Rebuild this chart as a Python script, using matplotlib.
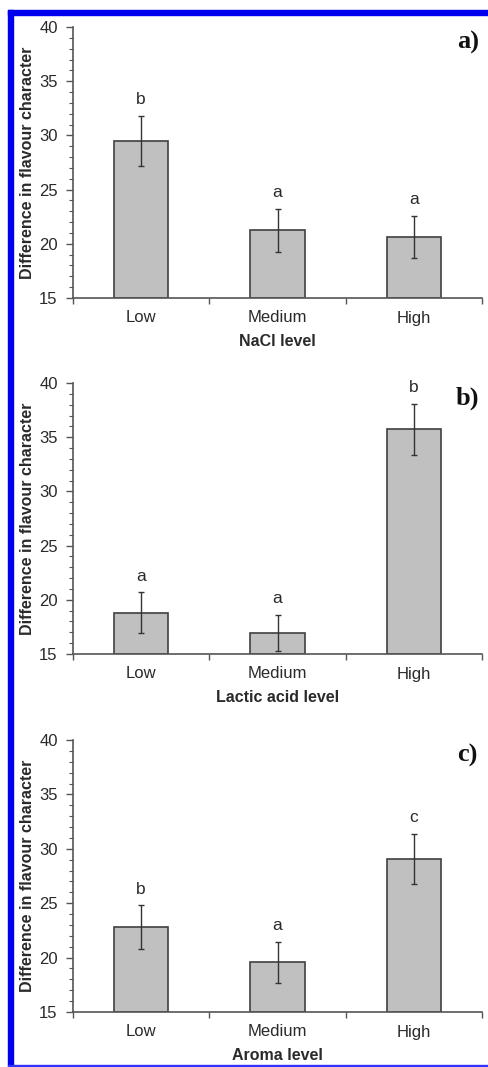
import numpy as np
import matplotlib.pyplot as plt
from matplotlib.patches import Rectangle
from matplotlib.ticker import MultipleLocator

plt.rcParams['font.family'] = ['Liberation Sans', 'DejaVu Sans']

categories = ['Low', 'Medium', 'High']

# panel a) NaCl level
nacl_mean = [29.5, 21.25, 20.65]
nacl_err = [2.3, 2.0, 1.95]
nacl_letters = ['b', 'a', 'a']

# panel b) lactic acid level
lactic_mean = [18.8, 16.95, 35.75]
lactic_err = [1.9, 1.65, 2.35]
lactic_letters = ['a', 'a', 'b']

# panel c) aroma level
aroma_mean = [22.8, 19.55, 29.1]
aroma_err = [2.0, 1.9, 2.3]
aroma_letters = ['b', 'a', 'c']

panels = [
    (nacl_mean, nacl_err, nacl_letters, 'NaCl level', 'a)'),
    (lactic_mean, lactic_err, lactic_letters, 'Lactic acid level', 'b)'),
    (aroma_mean, aroma_err, aroma_letters, 'Aroma level', 'c)'),
]

W, H = 488, 1067
fig = plt.figure(figsize=(W / 100, H / 100), dpi=100)

# axes boxes in pixels: (top, bottom)
boxes = [(27, 298), (383, 654), (740, 1012)]
left, right = 73, 482

txt = '#2a2a2a'
axc = '#555555'

for (mean, err, letters, xlab, tag), (top, bot) in zip(panels, boxes):
    ax = fig.add_axes([left / W, 1 - bot / H, (right - left) / W, (bot - top) / H])
    x = np.arange(len(categories))
    ax.bar(x, np.array(mean) - 15, bottom=15, width=0.4, color='#c0c0c0',
           edgecolor='#404040', linewidth=1.2, zorder=2)
    ax.errorbar(x, mean, yerr=err, fmt='none', ecolor='#333333',
                elinewidth=1.0, capsize=2.5, capthick=1.0, zorder=3)
    for xi, m, e, lt in zip(x, mean, err, letters):
        ax.text(xi, m + e + 0.8, lt, ha='center', va='bottom', fontsize=12.5, color=txt)
    ax.set_xlim(-0.5, 2.5)
    ax.set_ylim(15, 40)
    ax.yaxis.set_major_locator(MultipleLocator(5))
    ax.yaxis.set_minor_locator(MultipleLocator(1))
    ax.set_xticks([-0.5, 0.5, 1.5, 2.5])
    ax.set_xticklabels([])
    ax.set_xticks(x, minor=True)
    ax.set_xticklabels(categories, minor=True)
    ax.tick_params(axis='x', which='major', length=4, color=axc, width=1.0)
    ax.tick_params(axis='x', which='minor', length=0, pad=9, labelsize=12, labelcolor=txt)
    ax.tick_params(axis='y', which='major', length=5, color=axc, width=1.0,
                   labelsize=12, labelcolor=txt, pad=6)
    ax.tick_params(axis='y', which='minor', length=3, color=axc, width=0.8)
    for s in ['top', 'right']:
        ax.spines[s].set_visible(False)
    for s in ['left', 'bottom']:
        ax.spines[s].set_color(axc)
        ax.spines[s].set_linewidth(1.2)
    ax.set_xlabel(xlab, fontsize=11.5, fontweight='bold', color=txt, labelpad=6)
    ax.set_ylabel('Difference in flavour character', fontsize=11.5, fontweight='bold',
                  color=txt)
    ax.yaxis.set_label_coords(-(left - 35) / (right - left), 0.5)
    ax.text(0.965, 0.985, tag, transform=ax.transAxes, ha='center', va='top',
            fontsize=19, fontweight='bold', family=['Liberation Serif', 'DejaVu Serif'],
            color='#111111')

# blue frame (left, top, bottom)
blue = '#0000ee'
fig.patches.append(Rectangle((8 / W, 1 - 1066 / H), 5 / W, (1066 - 10) / H,
                             transform=fig.transFigure, color=blue, zorder=10))
fig.patches.append(Rectangle((8 / W, 1 - 15 / H), 1 - 8 / W, 5 / H,
                             transform=fig.transFigure, color=blue, zorder=10))
fig.patches.append(Rectangle((8 / W, 1 - 1066 / H), 1 - 8 / W, 1.2 / H,
                             transform=fig.transFigure, color='#3333ff', zorder=10))

fig.savefig('out.png', dpi=100)
